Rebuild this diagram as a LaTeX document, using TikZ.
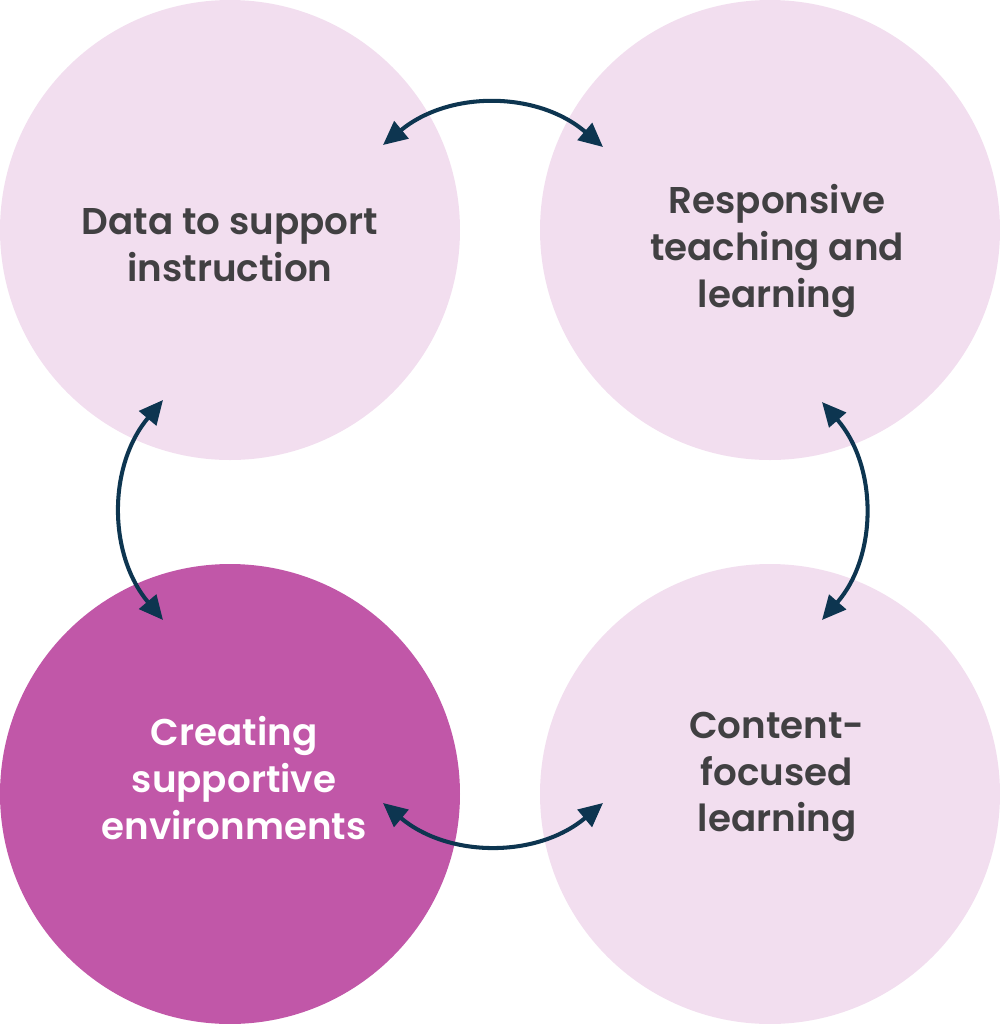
\documentclass[tikz,border=0pt]{standalone}
\usepackage{fontspec}
\setmainfont{Poppins}[BoldFont={Poppins SemiBold}]
\usepackage{tikz}
\usetikzlibrary{arrows.meta,positioning,calc}

\definecolor{palepink}{HTML}{F2DEEF}
\definecolor{orchid}{HTML}{C157A8}
\definecolor{darknavy}{HTML}{0D3550}
\definecolor{textgray}{HTML}{414042}

\begin{document}
\begin{tikzpicture}[>={Triangle[length=2.4mm,width=2.2mm]},
node distance=5.4cm,
line width=1.15pt]
\tikzstyle{stage}=[circle, minimum size=4.6cm, inner sep=0pt, fill=palepink, draw=none]
\tikzstyle{stagetext}=[align=center, text=textgray, font=\bfseries\fontsize{10.6}{13.3}\selectfont]
\tikzstyle{link}=[<->, draw=darknavy]

\useasboundingbox (0,0) rectangle (10,-10.24);

\node[stage,
label={[stagetext, name=dat-txt, yshift=-0.15cm]center:{Data to support\\instruction}}]
(dat) at (2.30,-2.30) {};

\node[stage,
label={[stagetext, name=resp-txt, xshift=0.07cm, yshift=-0.21cm]center:{Responsive\\teaching and\\learning}}]
(resp) [right of=dat] {};

\node[stage, fill=orchid,
label={[stagetext, text=white, name=env-txt, xshift=0.04cm, yshift=0.16cm]center:{Creating\\supportive\\environments}}]
(env) [node distance=5.64cm, below of=dat] {};

\node[stage,
label={[stagetext, name=cont-txt, xshift=0.07cm, yshift=0.17cm]center:{Content-\\focused\\learning}}]
(cont) [right of=env] {};

%arrow ends
\coordinate (dat-e) at ($(dat)+(1.53,0.85)$);
\coordinate (dat-s) at ($(dat)+(-0.67,-1.70)$);
\coordinate (resp-w) at ($(resp)+(-1.67,0.83)$);
\coordinate (resp-s) at ($(resp)+(0.52,-1.72)$);
\coordinate (env-n) at ($(env)+(-0.67,1.74)$);
\coordinate (env-e) at ($(env)+(1.53,-0.09)$);
\coordinate (cont-n) at ($(cont)+(0.52,1.74)$);
\coordinate (cont-w) at ($(cont)+(-1.67,-0.09)$);

\draw[link] (dat-e) to[bend left=40] (resp-w);
\draw[link] (dat-s) to[bend right=40] (env-n);
\draw[link] (resp-s) to[bend left=41] (cont-n);
\draw[link] (env-e) to[bend right=40] (cont-w);

\end{tikzpicture}
\end{document}
